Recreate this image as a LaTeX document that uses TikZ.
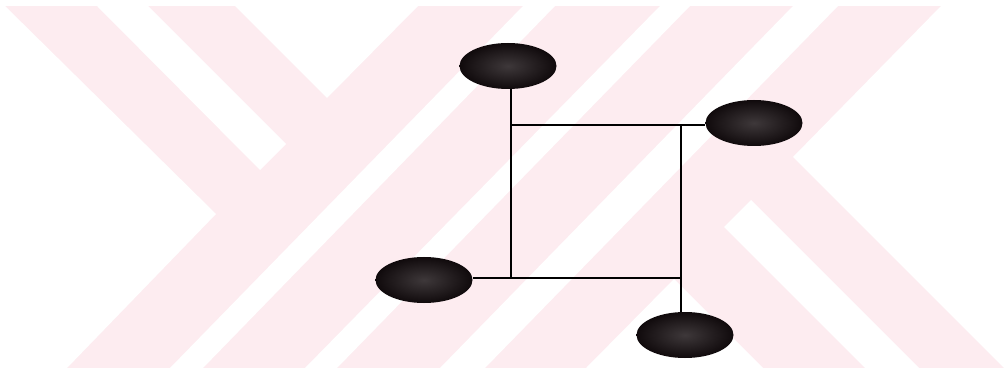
\documentclass[tikz,border=0pt]{standalone}
\usetikzlibrary{shapes.geometric}
\definecolor{wm}{RGB}{253,236,240}
\definecolor{blob}{RGB}{16,10,12}
\definecolor{blobin}{RGB}{62,56,58}
\begin{document}
\begin{tikzpicture}[x=1pt,y=-1pt,
  blobnode/.style={ellipse, shading=radial, inner color=blobin, outer color=blob,
    minimum width=97pt, minimum height=46pt, inner sep=0pt},
  wire/.style={line width=1.8pt, black},
  gap/.style={fill=white}]
\useasboundingbox (0,0) rectangle (1006,371);
\fill[white] (0,0) rectangle (1006,371);
% watermark
\fill[wm] (0,6) rectangle (1006,368);
\fill[gap] (0,6) -- (5,6) -- (216,214) -- (67,368) -- (0,368) -- cycle;
\fill[gap] (97,6) -- (148,6) -- (286,144) -- (260,170) -- cycle;
\fill[gap] (235,6) -- (418,6) -- (327,98) -- cycle;
\fill[gap] (523,6) -- (555,6) -- (203,368) -- (170,368) -- cycle;
\fill[gap] (660,6) -- (690,6) -- (337,368) -- (305,368) -- cycle;
\fill[gap] (793,6) -- (838,6) -- (485,368) -- (440,368) -- cycle;
\fill[gap] (941,6) -- (1006,6) -- (1006,368) -- (1004,368) -- (793,157) -- cycle;
\fill[gap] (751,200) -- (919,368) -- (865,368) -- (724,227) -- cycle;
\fill[gap] (674,279) -- (763,368) -- (586,368) -- cycle;
% diagram
\node[blobnode] (top) at (508,66) {};
\node[blobnode] (rt) at (754,123) {};
\node[blobnode] (lf) at (424,280) {};
\node[blobnode] (bot) at (685,335) {};
\coordinate (TL) at (511,125);
\coordinate (TR) at (681,125);
\coordinate (BL) at (511,278);
\coordinate (BR) at (681,278);
\draw[wire] (TL |- top.south) -- (BL);
\draw[wire] (TL) -- (TL -| rt.west);
\draw[wire] (TR) -- (TR |- bot.north);
\draw[wire] (BL -| lf.east) -- (BR);
\end{tikzpicture}
\end{document}
